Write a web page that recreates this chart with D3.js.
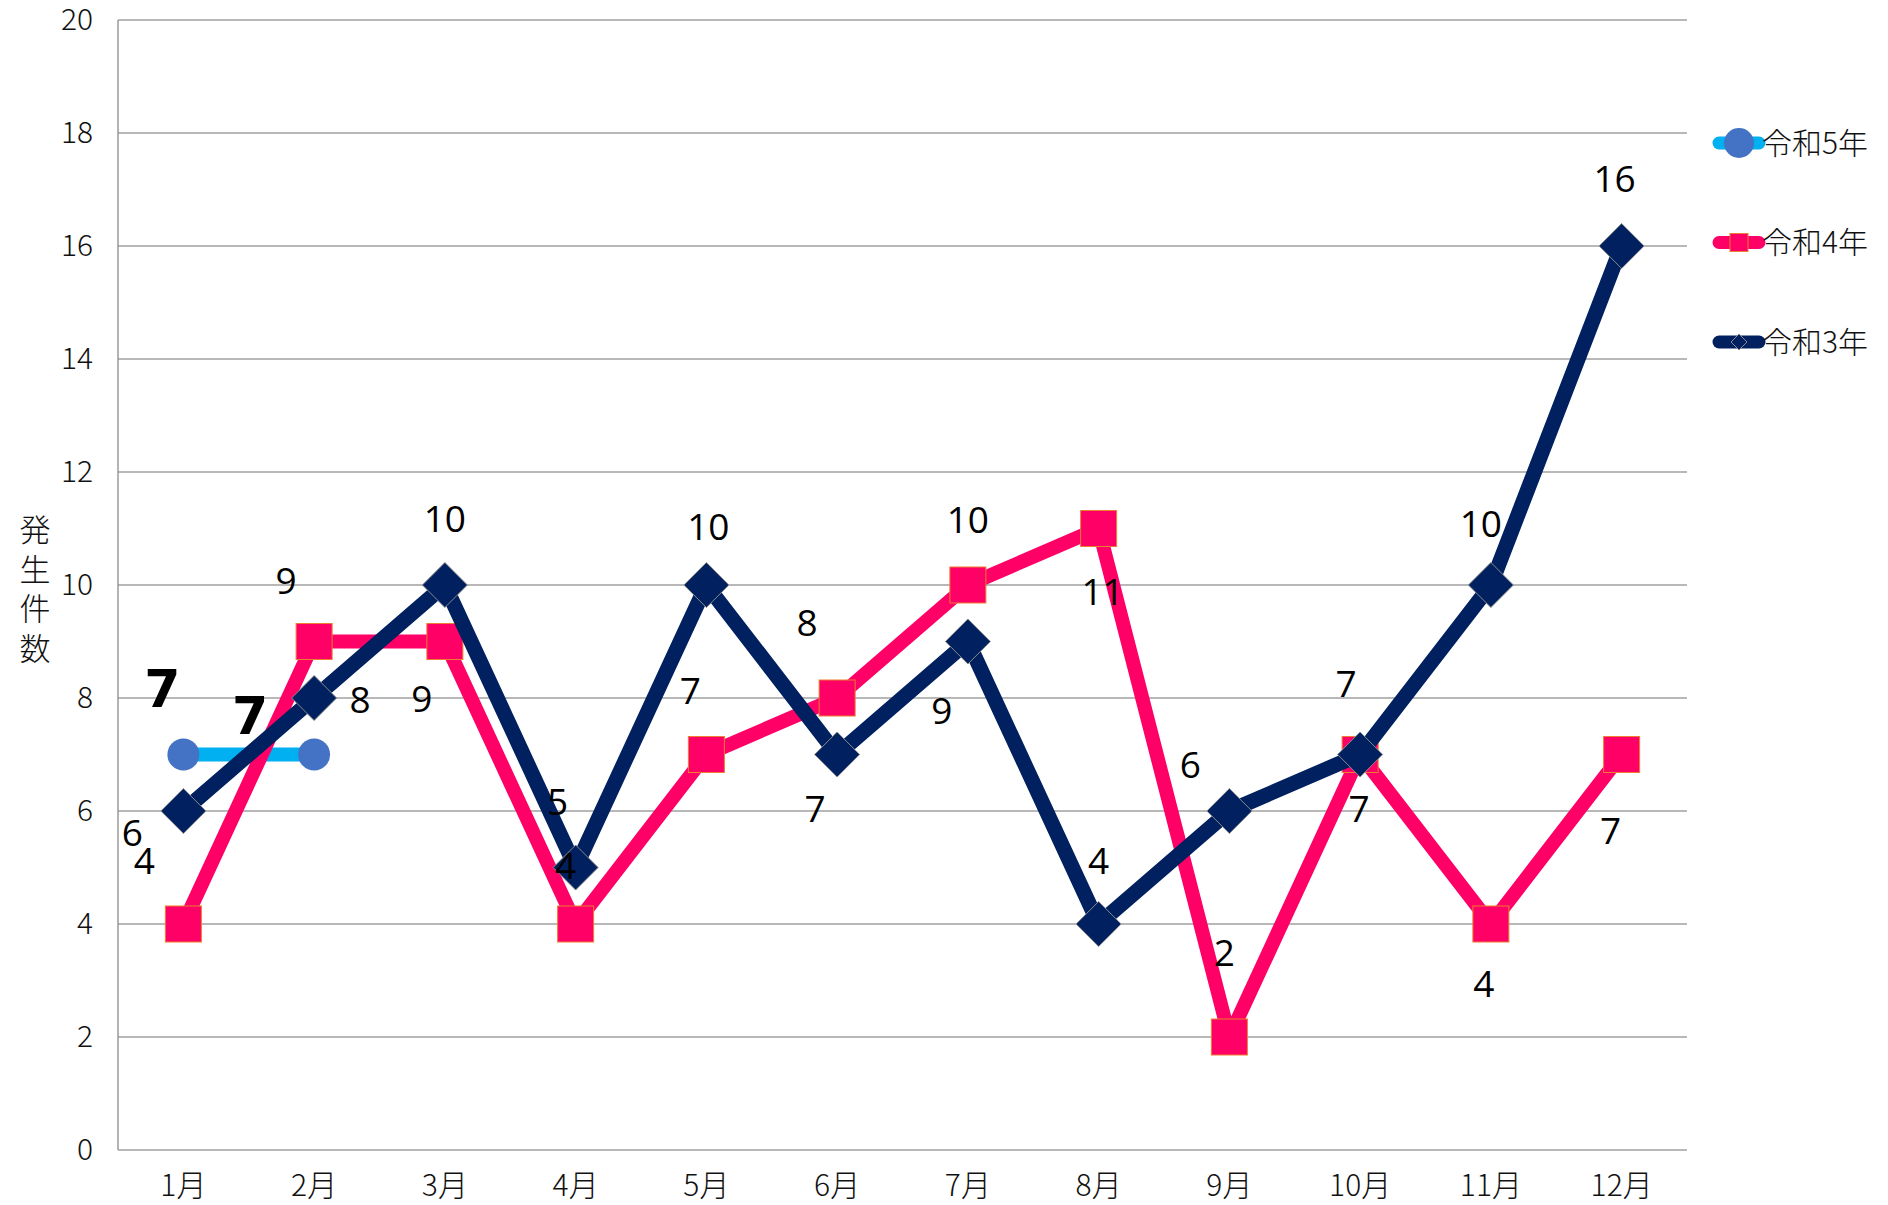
<!DOCTYPE html>
<html>
<head>
<meta charset="utf-8">
<style>
  body { margin: 0; background: #fff; }
  .grid line { stroke: #a0a0a0; stroke-width: 1.3; }
  .tick text { fill: #111; }
</style>
</head>
<body>
<svg width="1888" height="1205"></svg>
<script src="https://d3js.org/d3.v7.min.js"></script>
<script>

// chart data
var months = ["1月", "2月", "3月", "4月", "5月", "6月", "7月", "8月", "9月", "10月", "11月", "12月"];
var yTicks = [0, 2, 4, 6, 8, 10, 12, 14, 16, 18, 20];
var seriesNames = ["令和5年", "令和4年", "令和3年"];
var r5 = [7, 7];
var r4 = [4, 9, 9, 4, 7, 8, 10, 11, 2, 7, 4, 7];
var r3 = [6, 8, 10, 5, 10, 7, 9, 4, 6, 7, 10, 16];

// hand-placed data label offsets (px), as in the original sheet
var r5LabelOff = [[-21, -66], [-64, -39]];
var r4LabelOff = [[-39, -63], [-28, -61], [-23, 57], [-10, -58], [-16, -64], [-30, -75],
                  [0, -65], [4, 63], [-5, -84], [-1, 54], [-7, 60], [-11, 76]];
var r3LabelOff = [[-51, 22], [46, 2], [0, -66], [-18, -66], [2, -58], [-22, 54],
                  [-26, 69], [0, -63], [-39, -46], [-14, -71], [-10, -61], [-7, -67]];

var svg = d3.select("svg"),
    margin = {top: 20, right: 201, bottom: 55, left: 118},
    width = +svg.attr("width") - margin.left - margin.right,
    height = +svg.attr("height") - margin.top - margin.bottom,
    g = svg.append("g").attr("transform", "translate(" + margin.left + "," + margin.top + ")");

var x = d3.scaleBand().domain(months).range([0, width]);
var y = d3.scaleLinear().domain([0, 20]).range([height, 0]);
function px(i) { return x(months[i]) + x.bandwidth() / 2; }

var cjk = "'Noto Sans CJK JP', 'Noto Sans', sans-serif";
var labelFont = "'Open Sans', 'Noto Sans', sans-serif";

// gridlines
g.append("g").attr("class", "grid")
  .selectAll("line")
  .data(yTicks)
  .enter().append("line")
    .attr("x1", 0).attr("x2", width)
    .attr("y1", function(d) { return y(d); })
    .attr("y2", function(d) { return y(d); });

// left axis line
g.append("line")
  .attr("x1", 0).attr("x2", 0).attr("y1", 0).attr("y2", height)
  .attr("stroke", "#8c8c8c").attr("stroke-width", 1.3);

// y axis labels
var yAxis = g.append("g")
  .call(d3.axisLeft(y).tickValues(yTicks).tickSize(0).tickPadding(25));
yAxis.select(".domain").remove();
yAxis.selectAll("text")
  .attr("font-family", cjk).attr("font-size", 30).attr("font-weight", 300);

// x axis labels
var xAxis = g.append("g")
  .attr("transform", "translate(0," + height + ")")
  .call(d3.axisBottom(x).tickSize(0).tickPadding(25));
xAxis.select(".domain").remove();
xAxis.selectAll("text")
  .attr("font-family", cjk).attr("font-size", 30).attr("font-weight", 300);

// y title, stacked vertically
var yTitle = svg.append("text")
  .attr("font-family", cjk).attr("font-size", 31).attr("font-weight", 300).attr("fill", "#111")
  .attr("text-anchor", "middle");
"発生件数".split("").forEach(function(c, i) {
  yTitle.append("tspan").attr("x", 35).attr("y", 541 + i * 39.5).text(c);
});

var line = d3.line()
  .x(function(d, i) { return px(i); })
  .y(function(d) { return y(d); });

function diamondPath(h) {
  return "M0," + (-h) + "L" + h + ",0L0," + h + "L" + (-h) + ",0Z";
}

// 令和5年
g.append("path").datum(r5)
  .attr("d", line).attr("fill", "none")
  .attr("stroke", "#00B0F0").attr("stroke-width", 14);
g.selectAll(".m5").data(r5).enter().append("circle")
  .attr("cx", function(d, i) { return px(i); })
  .attr("cy", function(d) { return y(d); })
  .attr("r", 16).attr("fill", "#4472C4");

// 令和4年
g.append("path").datum(r4)
  .attr("d", line).attr("fill", "none")
  .attr("stroke", "#FF0066").attr("stroke-width", 14).attr("stroke-linejoin", "round");
g.selectAll(".m4").data(r4).enter().append("rect")
  .attr("x", function(d, i) { return px(i) - 18; })
  .attr("y", function(d) { return y(d) - 18; })
  .attr("width", 36).attr("height", 36)
  .attr("fill", "#FF0066").attr("stroke", "#ED7D31").attr("stroke-width", 1);

// 令和3年
g.append("path").datum(r3)
  .attr("d", line).attr("fill", "none")
  .attr("stroke", "#002060").attr("stroke-width", 15).attr("stroke-linejoin", "round");
g.selectAll(".m3").data(r3).enter().append("path")
  .attr("transform", function(d, i) { return "translate(" + px(i) + "," + y(d) + ")"; })
  .attr("d", diamondPath(22.5))
  .attr("fill", "#002060").attr("stroke", "#8a8a8a").attr("stroke-width", 1);

// data labels
function labels(data, off, bold) {
  g.append("g").selectAll("text").data(data).enter().append("text")
    .attr("x", function(d, i) { return px(i) + off[i][0]; })
    .attr("y", function(d, i) { return y(d) + off[i][1]; })
    .attr("dy", "0.36em")
    .attr("text-anchor", "middle")
    .attr("font-family", bold ? "'DejaVu Sans', sans-serif" : labelFont)
    .attr("font-weight", bold ? 900 : 400)
    .attr("font-size", bold ? 52 : 37)
    .attr("fill", "#000")
    .text(function(d) { return d; });
}
labels(r4, r4LabelOff, false);
labels(r3, r3LabelOff, false);
labels(r5, r5LabelOff, true);

// legend
var legendColors = [["#00B0F0", "#4472C4"], ["#FF0066", "#FF0066"], ["#002060", "#002060"]];
var legend = svg.append("g").selectAll("g")
  .data(seriesNames)
  .enter().append("g")
    .attr("transform", function(d, i) { return "translate(1739," + (143 + i * 99.5) + ")"; });

legend.append("line")
  .attr("x1", -20).attr("x2", 20)
  .attr("stroke", function(d, i) { return legendColors[i][0]; })
  .attr("stroke-width", 13).attr("stroke-linecap", "round");

legend.each(function(d, i) {
  var s = d3.select(this);
  if (i === 0) {
    s.append("circle").attr("r", 15).attr("fill", legendColors[i][1]);
  } else if (i === 1) {
    s.append("rect").attr("x", -9).attr("y", -9).attr("width", 18).attr("height", 18)
      .attr("fill", "#FF0066").attr("stroke", "#ED7D31").attr("stroke-width", 1);
  } else {
    s.append("path").attr("d", diamondPath(8))
      .attr("fill", "#002060").attr("stroke", "#8a8a8a").attr("stroke-width", 1);
  }
});

legend.append("text")
  .attr("x", 23).attr("dy", "0.36em")
  .attr("font-family", cjk).attr("font-size", 30).attr("font-weight", 300)
  .attr("fill", "#111")
  .text(function(d) { return d; });

</script>
</body>
</html>
